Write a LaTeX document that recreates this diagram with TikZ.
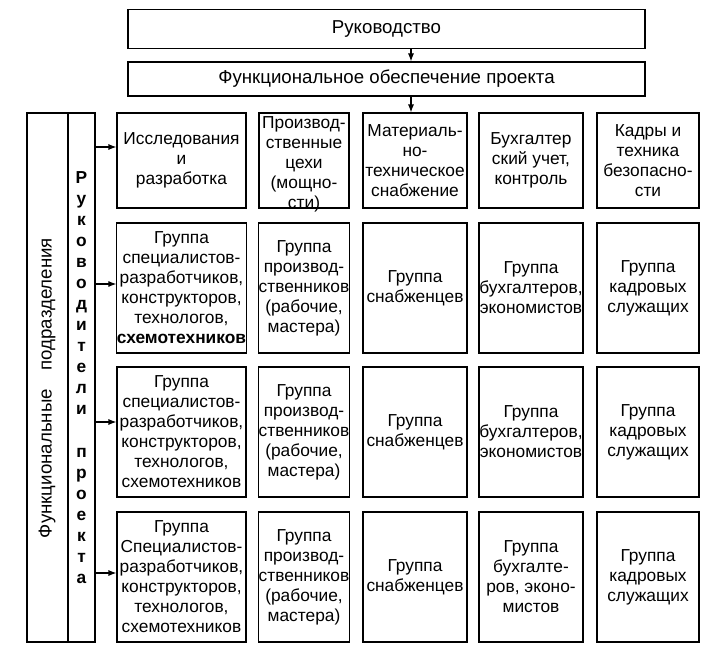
\documentclass[tikz,border=0pt]{standalone}
\usepackage{fontspec}
\setmainfont{Liberation Sans}
\usetikzlibrary{arrows.meta}

\begin{document}
\begin{tikzpicture}[x=0.75pt, y=-0.75pt, line width=0.8pt,
    every node/.style={font=\fontsize{13}{15}\selectfont},
    box/.style={draw, inner sep=0pt, align=center},
    big/.style={font=\fontsize{14}{16}\selectfont},
    arr/.style={-{Latex[length=6pt,width=4.5pt]}},
    w1/.style={minimum width=96.75pt}, w2/.style={minimum width=67.5pt},
    w3/.style={minimum width=78pt}, w4/.style={minimum width=78pt},
    w5/.style={minimum width=76.5pt},
    hh/.style={minimum height=71.25pt}, hg/.style={minimum height=97.5pt}]
  \useasboundingbox (0,0) rectangle (713,660);
  \node[box, big, minimum width=387.75pt, minimum height=28.9pt] (ruk) at (386.5,29) {Руководство};
  \node[box, big, minimum width=387.75pt, minimum height=25.5pt] (func) at (386.5,79) {Функциональное обеспечение проекта};
  \coordinate (ax) at (411,0);
  \node[box, minimum width=30.75pt, minimum height=396.75pt] (podr) at (47.5,377.5) {};
  \node[big, rotate=90] at (47,388) {Функциональные\quad подразделения};
  \node[box, minimum width=20.25pt, minimum height=396.75pt,
        font=\fontsize{13}{15.8}\selectfont\bfseries] (lead) at (81.5,377.5)
    {Р\\у\\к\\о\\в\\о\\д\\и\\т\\е\\л\\и\\ \\п\\р\\о\\е\\к\\т\\а};
  % first row
  \node[box, w1, hh] (r1c1) at (181.5,160.5) {Исследования\\и\\разработка};
  \node[box, w2, hh] (r1c2) at (304,160.5) {};
  \node[align=center] at (304,164) {Производ-\\ственные\\цехи\\(мощно-\\сти)};
  \node[box, w3, hh] (r1c3) at (415,160.5) {Материаль-\\но-\\техническое\\снабжение};
  \node[box, w4, hh] (r1c4) at (531,160.5) {Бухгалтер\\ский учет,\\контроль};
  \node[box, w5, hh] (r1c5) at (648,160.5) {Кадры и\\техника\\безопасно-\\сти};
  % groups
  \node[box, w1, hg] (r2c1) at (181.5,288) {Группа\\специалистов-\\разработчиков,\\конструкторов,\\технологов,\\{\bfseries схемотехников}};
  \node[box, w2, hg] (r2c2) at (304,288) {Группа\\производ-\\ственников\\(рабочие,\\мастера)};
  \node[box, w3, hg] (r2c3) at (415,288) {Группа\\снабженцев};
  \node[box, w4, hg] (r2c4) at (531,288) {Группа\\бухгалтеров,\\экономистов};
  \node[box, w5, hg] (r2c5) at (648,288) {Группа\\кадровых\\служащих};
  \node[box, w1, hg] (r3c1) at (181.5,432) {Группа\\специалистов-\\разработчиков,\\конструкторов,\\технологов,\\схемотехников};
  \node[box, w2, hg] (r3c2) at (304,432) {Группа\\производ-\\ственников\\(рабочие,\\мастера)};
  \node[box, w3, hg] (r3c3) at (415,432) {Группа\\снабженцев};
  \node[box, w4, hg] (r3c4) at (531,432) {Группа\\бухгалтеров,\\экономистов};
  \node[box, w5, hg] (r3c5) at (648,432) {Группа\\кадровых\\служащих};
  \node[box, w1, hg] (r4c1) at (181.5,577) {Группа\\Специалистов-\\разработчиков,\\конструкторов,\\технологов,\\схемотехников};
  \node[box, w2, hg] (r4c2) at (304,577) {Группа\\производ-\\ственников\\(рабочие,\\мастера)};
  \node[box, w3, hg] (r4c3) at (415,577) {Группа\\снабженцев};
  \node[box, w4, hg] (r4c4) at (531,577) {Группа\\бухгалте-\\ров, эконо-\\мистов};
  \node[box, w5, hg] (r4c5) at (648,577) {Группа\\кадровых\\служащих};
  % arrows
  \draw[arr] (ruk.south -| ax) -- (func.north -| ax);
  \draw[arr] (func.south -| ax) -- (r1c3.north -| ax);
  \foreach \r/\y in {1/147,2/284,3/422,4/573}
    \draw[arr] (lead.east |- 0,\y) -- (r\r c1.west |- 0,\y);
\end{tikzpicture}
\end{document}
